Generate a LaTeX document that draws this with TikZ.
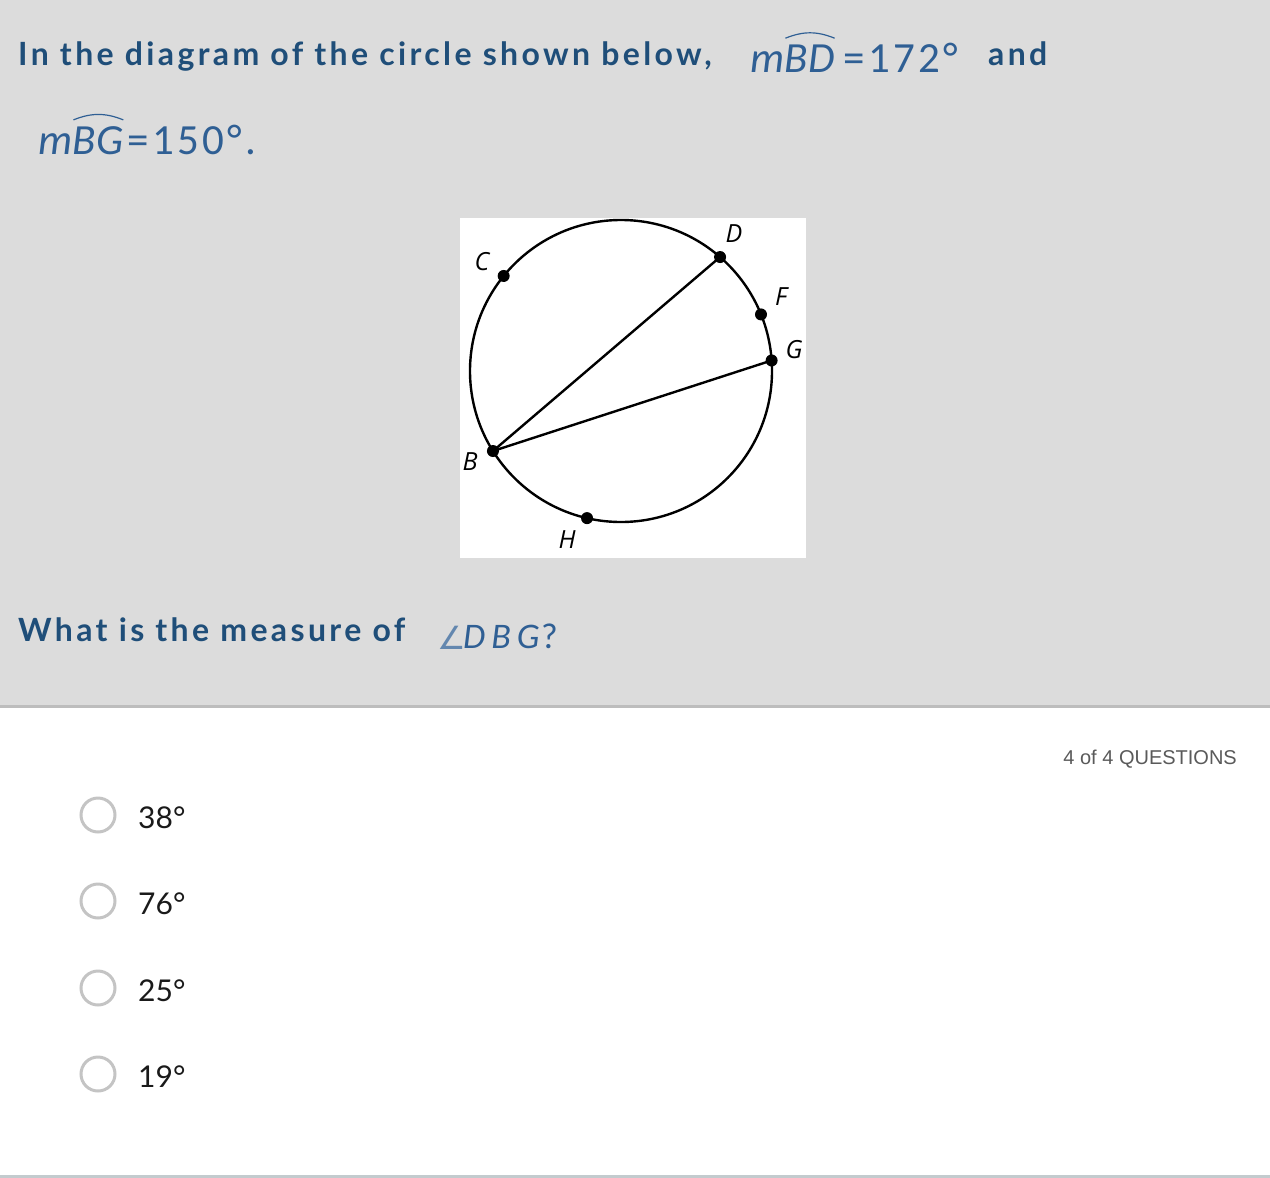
\documentclass[tikz,border=0pt]{standalone}
\usepackage{fontspec}
\usetikzlibrary{calc}
\setmainfont{Lato}
\newfontfamily\headfont[LetterSpace=10.5]{Lato}
\newfontfamily\ansfont{Lato}
\newfontfamily\mathfont{Carlito}
\newfontfamily\mathnumfont[LetterSpace=8]{Carlito}
\newfontfamily\labelfont{Open Sans}
\newfontfamily\uifont{Liberation Sans}
\newfontfamily\symfont{DejaVu Sans}
\definecolor{bggray}{HTML}{DCDCDC}
\definecolor{headblue}{HTML}{1F4E79}
\definecolor{mathblue}{HTML}{2F5F94}
\definecolor{radiogray}{HTML}{C4C4C4}
\definecolor{sepgray}{HTML}{BDBDBD}
\definecolor{uigray}{HTML}{5A5A5A}
\definecolor{anstext}{HTML}{1A1A1A}
\definecolor{botline}{HTML}{C3CBCE}
\tikzset{
  head/.style={anchor=base west, inner sep=0, text=headblue, font=\headfont\bfseries\fontsize{32}{38}\selectfont},
  mathi/.style={anchor=base west, inner sep=0, text=mathblue, font=\mathfont\itshape\fontsize{43}{50}\selectfont},
  mathu/.style={anchor=base west, inner sep=0, text=mathblue, font=\mathnumfont\fontsize{43}{50}\selectfont},
  arcmark/.style={draw=mathblue, line width=1.2pt},
  pt/.style={circle, fill=black, inner sep=0, minimum size=12pt},
  lbl/.style={inner sep=0, font=\labelfont\itshape\fontsize{25}{30}\selectfont},
  chord/.style={line width=2.4pt},
  radio/.style={circle, draw=radiogray, line width=3pt, minimum size=34pt, inner sep=0},
  ans/.style={anchor=base west, inner sep=0, text=anstext, font=\ansfont\fontsize{30}{36}\selectfont},
}
\begin{document}
\begin{tikzpicture}[x=1pt, y=-1pt]
\useasboundingbox (0,0) rectangle (1270,1178);
% backgrounds
\fill[white] (0,0) rectangle (1270,1178);
\fill[bggray] (0,0) rectangle (1270,705);
\fill[sepgray] (0,705) rectangle (1270,708);
\fill[botline] (0,1175) rectangle (1270,1178);
% heading line 1
\node[head] (h1) at (18,65) {In the diagram of the circle shown below,};
\node[mathi] (m1) at (750,72) {m};
\node[mathi] (bd) at (m1.base east) {BD};
\draw[arcmark] ([xshift=1pt,yshift=6pt]bd.north west) to[bend left=22] ([xshift=0pt,yshift=6pt]bd.north east);
\node[mathu] (eq1) at (843,72) {=172°};
\node[head] (and) at (988,65) {and};
% line 2
\node[mathi] (m2) at (38,154) {m};
\node[mathi] (bg) at (m2.base east) {BG};
\draw[arcmark] ([xshift=1pt,yshift=6pt]bg.north west) to[bend left=22] ([xshift=0pt,yshift=6pt]bg.north east);
\node[mathu] (eq2) at (127,154) {=150°.};
% figure
\fill[white] (460,218) rectangle (806,558);
\coordinate (O) at (621,371);
\draw[line width=2.4pt] (O) circle[radius=151pt];
\node[pt] (C) at ($(O)+(141:151pt)$) {};
\node[pt] (D) at ($(O)+(49:151pt)$) {};
\node[pt] (F) at ($(O)+(22:151pt)$) {};
\node[pt] (G) at ($(O)+(4:151pt)$) {};
\node[pt] (B) at ($(O)+(212:151pt)$) {};
\node[pt] (H) at ($(O)+(257:151pt)$) {};
\draw[chord] (B.center) -- (D.center);
\draw[chord] (B.center) -- (G.center);
\node[lbl] (lC) at (482,262) {C};
\node[lbl] (lD) at (734,234) {D};
\node[lbl] (lF) at (781,297) {F};
\node[lbl] (lG) at (794,350) {G};
\node[lbl] (lB) at (470,462) {B};
\node[lbl] (lH) at (567,540) {H};
% question
\node[head] (q) at (18,641) {What is the measure of};
\node[anchor=base west, inner sep=0, text=mathblue!75, font=\symfont\fontsize{32}{38}\selectfont] (ang) at (437,649) {∠};
\node[mathi, font=\mathfont\itshape\fontsize{36}{42}\selectfont] (dbg) at (463,648) {D\,B\,G};
\node[mathu, font=\mathfont\fontsize{36}{42}\selectfont] (qm) at (541,648) {?};
% counter
\node[anchor=base east, inner sep=0, text=uigray, font=\uifont\fontsize{20}{24}\selectfont] (cnt) at (1237,764) {4 of 4 QUESTIONS};
% answers
\node[radio] (r1) at (98,815) {};
\node[ans] (a1) at (138,828) {38°};
\node[radio] (r2) at (98,901) {};
\node[ans] (a2) at (138,914) {76°};
\node[radio] (r3) at (98,988) {};
\node[ans] (a3) at (138,1001) {25°};
\node[radio] (r4) at (98,1074) {};
\node[ans] (a4) at (138,1087) {19°};
\end{tikzpicture}
\end{document}
